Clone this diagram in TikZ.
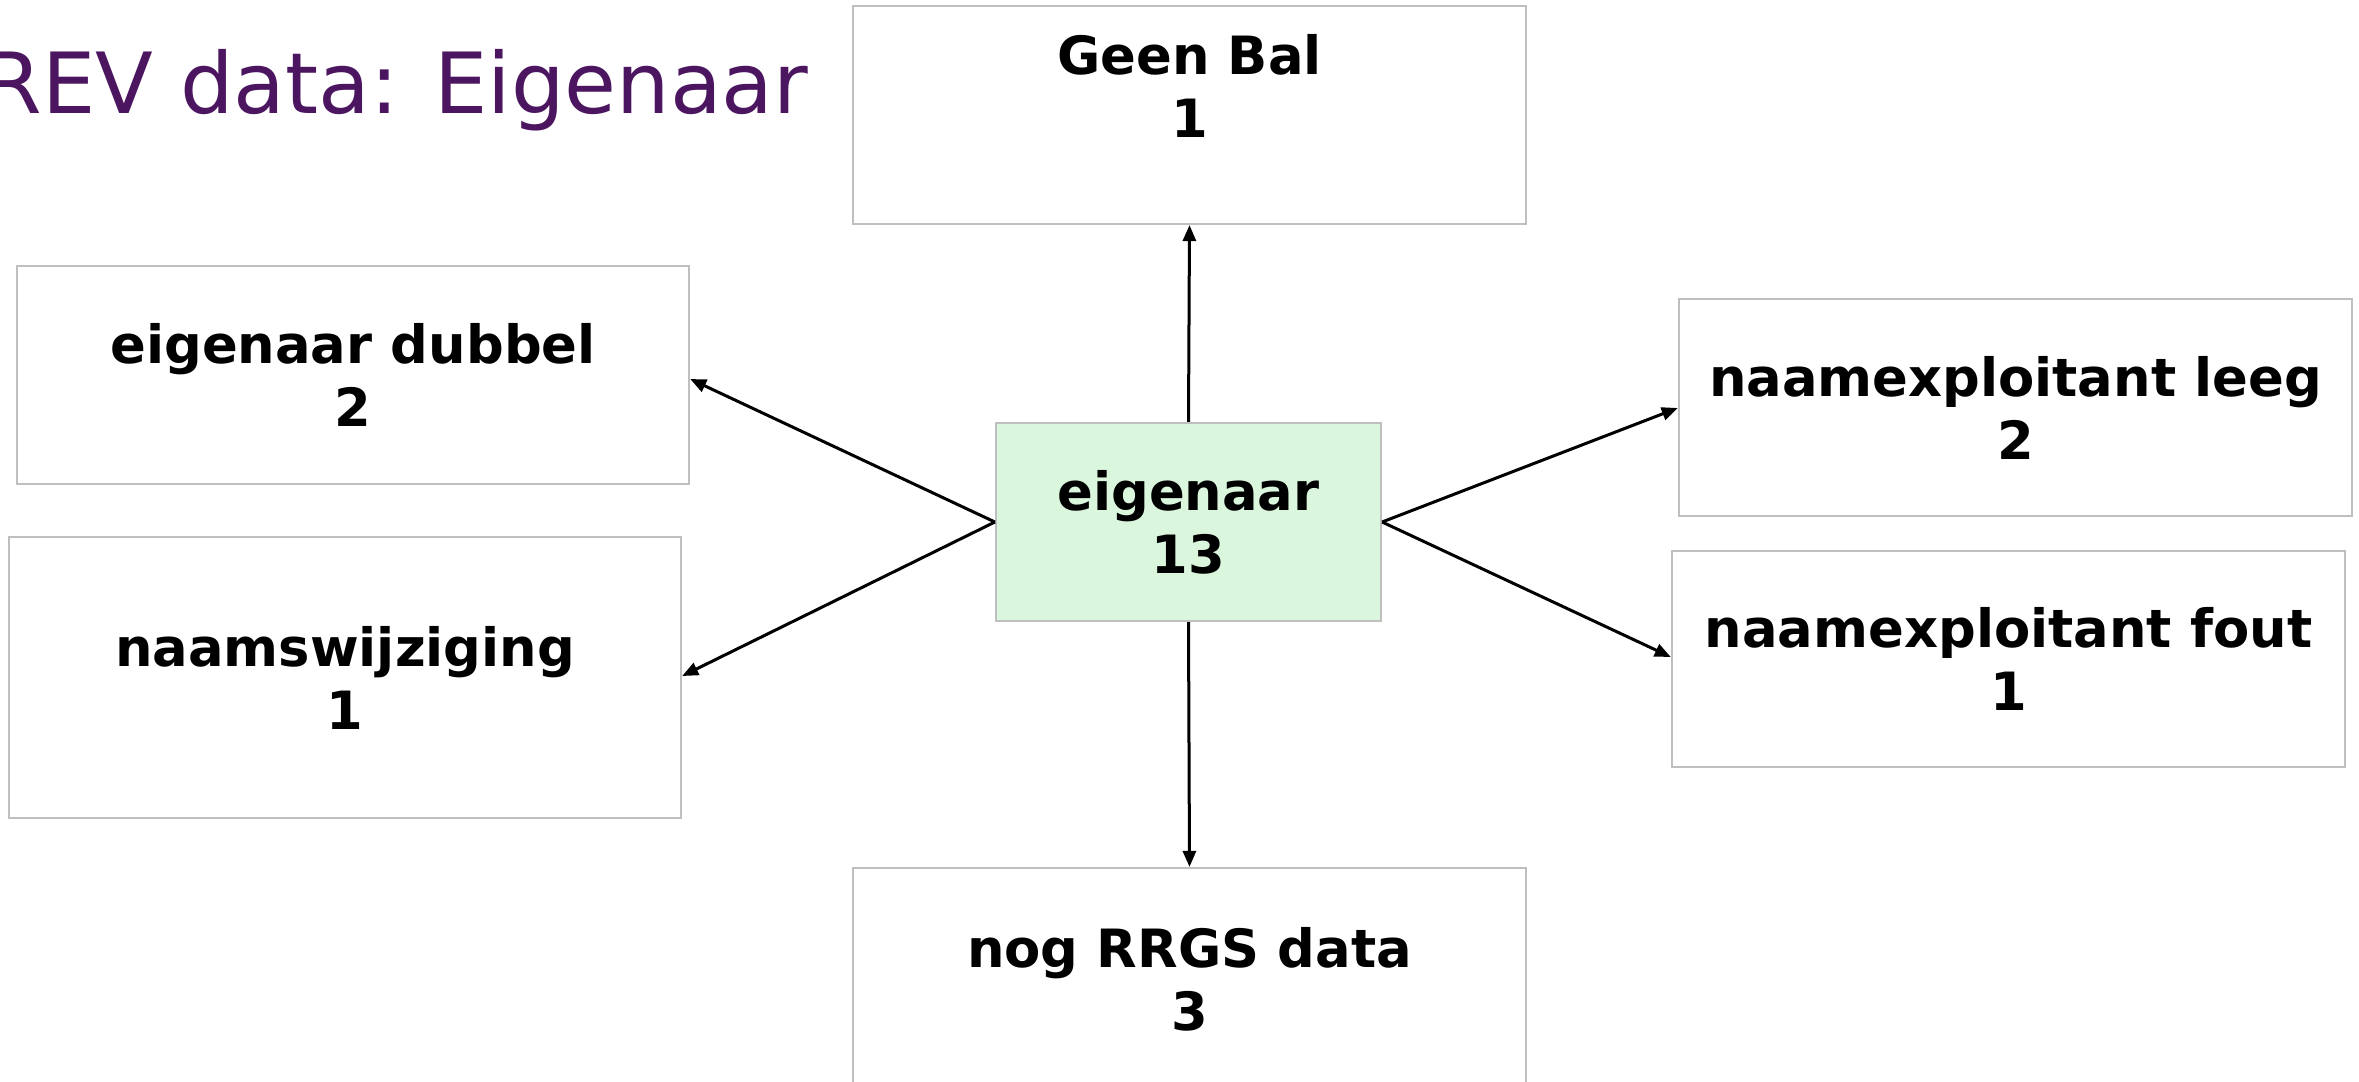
\documentclass[tikz,border=0pt]{standalone}
\usepackage{fontspec}
\setmainfont{DejaVu Sans}
\usetikzlibrary{arrows.meta}
\definecolor{titlepurple}{RGB}{76,21,96}
\definecolor{boxgray}{RGB}{191,191,191}
\definecolor{centergreen}{RGB}{218,247,221}
\tikzset{
  box/.style={draw=boxgray, line width=0.02cm, rectangle, inner sep=0pt, fill=white},
  lbl/.style={font=\fontsize{15pt}{17.9pt}\selectfont\bfseries, align=center, text=black},
  conn/.style={line width=0.03cm, draw=black, -{Triangle[length=0.16cm, width=0.13cm]}}
}
\begin{document}
\begin{tikzpicture}[x=0.01cm, y=-0.01cm]
\clip (0,0) rectangle (2359,1081);
\useasboundingbox (0,0) rectangle (2359,1081);
% title
\node[anchor=base east, inner sep=0pt, text=titlepurple, font=\fontsize{24pt}{28pt}\selectfont] (title) at (809,113) {REV data: Eigenaar};
% boxes
\node[box, minimum width=6.73cm, minimum height=2.18cm] (gb) at (1189.5,115) {};
\node[lbl] (gbt) at (1189.5,86) {Geen Bal\\1};
\node[box, lbl, minimum width=6.72cm, minimum height=2.18cm] (dub) at (353,375) {eigenaar dubbel\\2};
\node[box, lbl, minimum width=6.72cm, minimum height=2.81cm] (nsw) at (345,677.5) {naamswijziging\\1};
\node[box, lbl, fill=centergreen, minimum width=3.85cm, minimum height=1.98cm] (eig) at (1188.5,522) {eigenaar\\13};
\node[box, lbl, minimum width=6.73cm, minimum height=2.17cm] (leeg) at (2015.5,407.5) {naamexploitant leeg\\2};
\node[box, lbl, minimum width=6.73cm, minimum height=2.16cm] (fout) at (2008.5,659) {naamexploitant fout\\1};
\node[box, lbl, minimum width=6.73cm, minimum height=2.22cm] (rrgs) at (1189.5,979) {nog RRGS data\\3};
% connectors
\draw[conn] (eig.north) -- (gb.south);
\draw[conn] (eig.south) -- (rrgs.north);
\draw[conn] (eig.west) -- (dub.east |- 0,379);
\draw[conn] (eig.west) -- (nsw.east |- 0,676);
\draw[conn] (eig.east) -- (leeg.west |- 0,408);
\draw[conn] (eig.east) -- (fout.west |- 0,657);
\end{tikzpicture}
\end{document}
